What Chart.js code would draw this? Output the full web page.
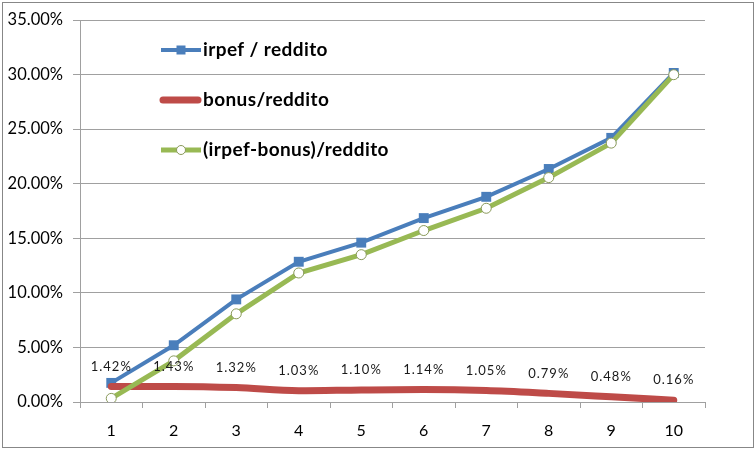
<!DOCTYPE html>
<html><head><meta charset="utf-8">
<script src="https://cdn.jsdelivr.net/npm/chart.js@4/dist/chart.umd.min.js"></script>
<style>html,body{margin:0;padding:0;background:#fff}#wrap{width:756px;height:449px;position:relative}</style>
</head><body><div id="wrap"><canvas id="c" width="756" height="449"></canvas></div>
<script>
const categories = ['1','2','3','4','5','6','7','8','9','10'];
const irpefReddito = [1.75, 5.2, 9.4, 12.85, 14.6, 16.85, 18.8, 21.35, 24.2, 30.15];
const bonusReddito = [1.42, 1.43, 1.32, 1.03, 1.10, 1.14, 1.05, 0.79, 0.48, 0.16];
const nettoReddito = [0.33, 3.77, 8.08, 11.82, 13.5, 15.71, 17.75, 20.56, 23.72, 29.99];
const seriesNames = ['irpef / reddito', 'bonus/reddito', '(irpef-bonus)/reddito'];
const yTicks = [0, 5, 10, 15, 20, 25, 30, 35];

const FONT = 'Lato, "Liberation Sans", sans-serif';

const frame = {
  id: 'frame',
  beforeDraw(chart) {
    const ctx = chart.ctx;
    ctx.save();
    ctx.fillStyle = '#fff';
    ctx.fillRect(0, 0, chart.width, chart.height);
    ctx.strokeStyle = '#878787';
    ctx.lineWidth = 1;
    ctx.strokeRect(2.5, 2.5, 751, 445);
    ctx.restore();
  }
};

const labelsPlugin = {
  id: 'bonusLabels',
  afterDatasetsDraw(chart) {
    const ctx = chart.ctx;
    const meta = chart.getDatasetMeta(1);
    ctx.save();
    ctx.font = '13px ' + FONT;
    ctx.letterSpacing = '1px';
    ctx.fillStyle = '#1a1a1a';
    ctx.textAlign = 'center';
    ctx.textBaseline = 'middle';
    meta.data.forEach((pt, i) => {
      ctx.fillText(bonusReddito[i].toFixed(2) + '%', pt.x, pt.y - 20);
    });
    ctx.restore();
  }
};

const legendPlugin = {
  id: 'innerLegend',
  afterDraw(chart) {
    const ctx = chart.ctx;
    const ys = [50, 100, 150];
    ctx.save();
    chart.data.datasets.forEach((ds, i) => {
      const y = ys[i];
      ctx.strokeStyle = ds.borderColor;
      ctx.lineWidth = ds.borderWidth;
      ctx.lineCap = i === 1 ? 'round' : 'butt';
      ctx.beginPath();
      ctx.moveTo(i === 1 ? 163 : 161, y);
      ctx.lineTo(i === 1 ? 198 : 201, y);
      ctx.stroke();
      if (ds.pointStyle === 'rect') {
        ctx.fillStyle = ds.pointBackgroundColor;
        ctx.fillRect(181 - 4.5, y - 4.5, 9, 9);
      } else if (ds.pointRadius > 0) {
        ctx.fillStyle = '#fff';
        ctx.strokeStyle = ds.pointBorderColor;
        ctx.lineWidth = 1;
        ctx.beginPath();
        ctx.arc(181, y, 4.5, 0, Math.PI * 2);
        ctx.fill();
        ctx.stroke();
      }
      ctx.fillStyle = '#000';
      ctx.font = 'bold 19px ' + FONT;
      ctx.letterSpacing = '0.4px';
      ctx.textAlign = 'left';
      ctx.textBaseline = 'middle';
      ctx.fillText(seriesNames[i], 203, y);
    });
    ctx.restore();
  }
};

new Chart(document.getElementById('c'), {
  type: 'line',
  data: {
    labels: categories,
    datasets: [
      {
        label: seriesNames[0], data: irpefReddito, order: 2,
        borderColor: '#4a7ebb', borderWidth: 4, tension: 0,
        pointStyle: 'rect', pointRadius: 7, pointBackgroundColor: '#4a7ebb', pointBorderColor: '#4a7ebb', pointBorderWidth: 0
      },
      {
        label: seriesNames[1], data: bonusReddito, order: 1,
        borderColor: '#be4b48', borderWidth: 7, tension: 0.4, cubicInterpolationMode: 'monotone',
        borderCapStyle: 'round', pointRadius: 0
      },
      {
        label: seriesNames[2], data: nettoReddito, order: 0,
        borderColor: '#98b954', borderWidth: 5, tension: 0,
        pointStyle: 'circle', pointRadius: 5, pointBackgroundColor: '#fff', pointBorderColor: '#8a9a5b', pointBorderWidth: 1
      }
    ]
  },
  options: {
    responsive: false,
    animation: false,
    devicePixelRatio: 1,
    layout: { padding: { left: 0, right: 51, top: 20, bottom: 0 } },
    plugins: { legend: { display: false }, tooltip: { enabled: false } },
    scales: {
      x: {
        offset: true,
        grid: { display: true, drawOnChartArea: false, drawTicks: true, tickLength: 6, color: '#a0a0a0', offset: true },
        border: { display: true, color: '#a0a0a0' },
        ticks: { color: '#000', font: { family: FONT, size: 16 }, padding: 13, maxRotation: 0 },
        afterFit(s) { s.height = 47; }
      },
      y: {
        min: 0, max: 35,
        afterBuildTicks(s) { s.ticks = yTicks.map(v => ({ value: v })); },
        grid: { color: '#a0a0a0', tickLength: 7, drawTicks: true },
        border: { display: true, color: '#a0a0a0' },
        ticks: { color: '#000', font: { family: FONT, size: 16.5 }, padding: 10, callback: v => Number(v).toFixed(2) + '%' },
        afterFit(s) { s.width = 80; }
      }
    }
  },
  plugins: [frame, labelsPlugin, legendPlugin]
});
</script></body></html>
